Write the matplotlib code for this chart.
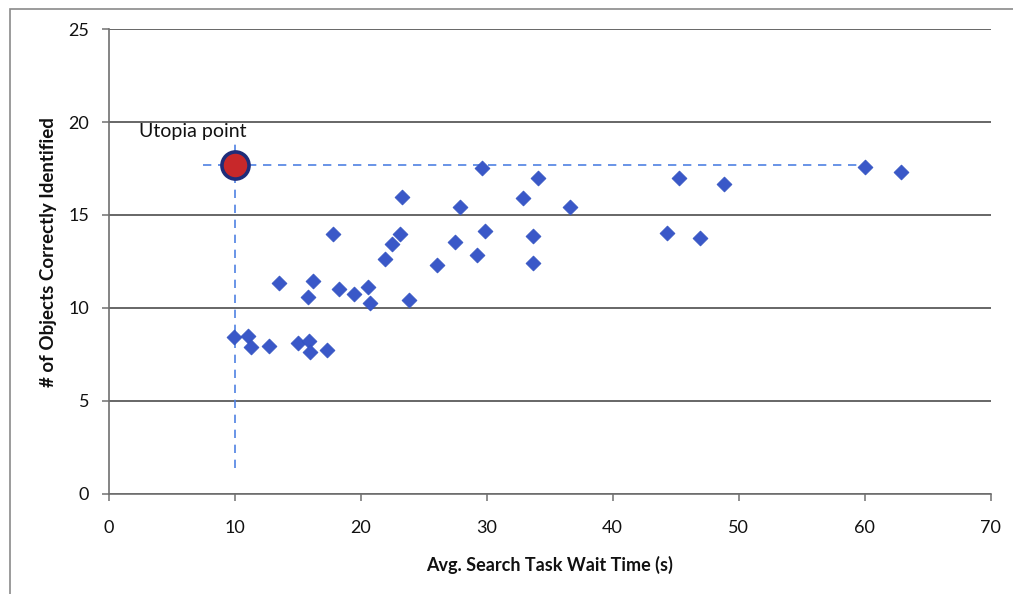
import matplotlib
matplotlib.use("Agg")
import matplotlib.pyplot as plt
from matplotlib.patches import Rectangle

plt.rcParams['font.family'] = ['Lato', 'DejaVu Sans']

# Average search task wait time (s) and objects correctly identified per run
wait_time = [9.95, 11.1, 11.3, 12.75, 13.5, 15.0, 15.9, 16.0, 15.8, 16.2,
             17.3, 17.8, 18.3, 19.5, 20.6, 20.75, 21.9, 22.45, 23.1, 23.25,
             23.8, 26.1, 27.5, 27.85, 29.2, 29.65, 29.9, 32.9, 33.65, 33.7,
             34.1, 36.6, 44.3, 45.3, 46.95, 48.8, 60.05, 62.9]
objects_found = [8.45, 8.5, 7.9, 7.95, 11.35, 8.1, 8.2, 7.65, 10.6, 11.45,
                 7.75, 13.95, 11.0, 10.75, 11.1, 10.25, 12.65, 13.45, 14.0, 15.95,
                 10.4, 12.3, 13.55, 15.4, 12.85, 17.55, 14.15, 15.9, 13.85, 12.4,
                 17.0, 15.4, 14.05, 17.0, 13.75, 16.65, 17.6, 17.3]

utopia_x = 10
utopia_y = 17.7
utopia_label = "Utopia point"

x_ticks = [0, 10, 20, 30, 40, 50, 60, 70]
y_ticks = [0, 5, 10, 15, 20, 25]

fig = plt.figure(figsize=(10.13, 5.94), dpi=100)
ax = fig.add_axes([0.1072, 0.1689, 0.8708, 0.7821])

# Outer chart frame (open on the right and bottom)
fig.patches.append(Rectangle((10 / 1013, -0.05), 1.1, 1 - 9 / 594 + 0.05,
                             transform=fig.transFigure, fill=False,
                             edgecolor='#8a8a8a', linewidth=1.2))

ax.set_xlim(0, 70)
ax.set_ylim(0, 25)
ax.set_xticks(x_ticks)
ax.set_yticks(y_ticks)

ax.yaxis.grid(True, color='#5a5a5a', linewidth=1.3)
ax.set_axisbelow(True)
for side in ('top', 'right'):
    ax.spines[side].set_visible(False)
for side in ('left', 'bottom'):
    ax.spines[side].set_color('#707070')
    ax.spines[side].set_linewidth(1.2)

ax.tick_params(axis='x', direction='out', length=5, width=1.1, color='#707070',
               labelsize=13, pad=14, labelcolor='#111111')
ax.tick_params(axis='y', direction='out', length=5, width=1.1, color='#707070',
               labelsize=13, pad=9, labelcolor='#111111')

# Reference lines through the utopia point
ax.plot([7.5, 59.8], [utopia_y, utopia_y], linestyle=(0, (5, 4)),
        color='#4f82e3', linewidth=1.2, zorder=2)
ax.plot([utopia_x, utopia_x], [1.4, 18.9], linestyle=(0, (5, 4)),
        color='#4f82e3', linewidth=1.2, zorder=2)

ax.scatter(wait_time, objects_found, marker='D', s=58, color='#3a58c8',
           edgecolors='#3152c0', linewidths=0.5, zorder=3)

ax.scatter([utopia_x], [utopia_y], s=380, color='#c8282a',
           edgecolors='#1f2d7a', linewidths=2.6, zorder=4)
ax.text(2.45, 19.5, utopia_label, fontsize=14, color='#111111',
        ha='left', va='center')

ax.set_xlabel("Avg. Search Task Wait Time (s)", fontsize=13, fontweight='bold',
              labelpad=14, color='#111111')
ax.set_ylabel("# of Objects Correctly Identified", fontsize=13.5,
              fontweight='bold', color='#111111')
ax.yaxis.set_label_coords(-0.058, 0.52)

fig.savefig("out.png", dpi=100)
